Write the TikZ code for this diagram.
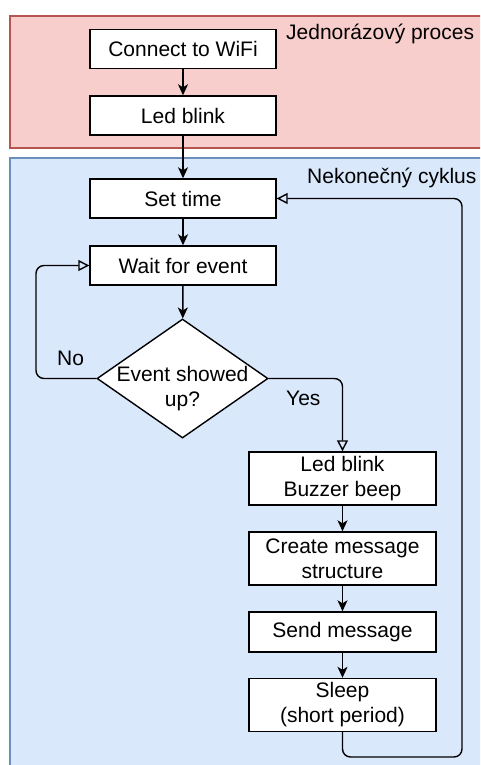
\documentclass[tikz,border=0pt]{standalone}
\usepackage{fontspec}
\setmainfont{Liberation Sans}
\usetikzlibrary{shapes.geometric,arrows.meta}
\definecolor{redfill}{HTML}{F8CECC}
\definecolor{redline}{HTML}{B85450}
\definecolor{bluefill}{HTML}{DAE8FC}
\definecolor{blueline}{HTML}{6C8EBF}
\begin{document}
\begin{tikzpicture}[x=1pt,y=-1pt,
  font=\fontsize{21}{25}\selectfont,
  box/.style={draw=black, fill=white, line width=1.4pt, minimum width=186pt, minimum height=39pt, inner sep=0pt, align=center},
  tallbox/.style={box, minimum width=187pt, minimum height=53pt},
  decision/.style={draw=black, fill=white, line width=1.4pt, diamond, minimum width=171pt, minimum height=119pt, inner sep=0pt},
  container/.style={line width=1.2pt},
  plainlabel/.style={anchor=base west, inner sep=0pt},
  flow/.style={line width=1.4pt, -{Stealth[length=11pt,width=10pt,inset=3pt]}},
  loopflow/.style={line width=1.4pt, rounded corners=8pt, -{Triangle[open,length=11pt,width=11pt]}}]
\useasboundingbox (0,0) rectangle (480,765);
\clip (0,0) rectangle (480,765);
% containers
\draw[container, draw=redline, fill=redfill] (10,16) rectangle (500,148);
\draw[container, draw=blueline, fill=bluefill] (10,158) rectangle (500,790);
% labels
\node[plainlabel] (lblone) at (286,40) {Jednorázový proces};
\node[plainlabel] (lblinf) at (307,183) {Nekonečný cyklus};
\node[plainlabel] (lblno) at (57,365) {No};
\node[plainlabel] (lblyes) at (286,405) {Yes};
% nodes
\node[box] (conn) at (183,49) {Connect to WiFi};
\node[box] (ledone) at (183,115.5) {Led blink};
\node[box] (settime) at (183,198.5) {Set time};
\node[box] (wait) at (183,265.5) {Wait for event};
\node[decision] (dec) at (182.5,378.5) {};
\node[align=center, inner sep=0pt] (dectext) at (182.5,389) {Event showed\\up?};
\node[tallbox] (ledtwo) at (342.5,478.5) {Led blink\\Buzzer beep};
\node[tallbox] (create) at (342.5,558.5) {Create message\\structure};
\node[box, minimum width=187pt, minimum height=40pt] (send) at (342.5,632) {Send message};
\node[tallbox] (sleep) at (342.5,705) {Sleep\\(short period)};
% helper coordinates
\coordinate (nocorner) at (36,265.5);
\coordinate (loopbot) at (462,757);
% connectors
\draw[flow] (conn) -- (ledone);
\draw[flow] (ledone) -- (settime);
\draw[flow] (settime) -- (wait);
\draw[flow] (wait) -- (dec);
\draw[flow] (ledtwo) -- (create);
\draw[flow] (create) -- (send);
\draw[flow] (send) -- (sleep);
\draw[loopflow] (dec.west) -| (nocorner) -- (wait.west);
\draw[loopflow] (dec.east) -| (ledtwo.north);
\draw[loopflow] (sleep.south) |- (loopbot) |- (settime.east);
\end{tikzpicture}
\end{document}
